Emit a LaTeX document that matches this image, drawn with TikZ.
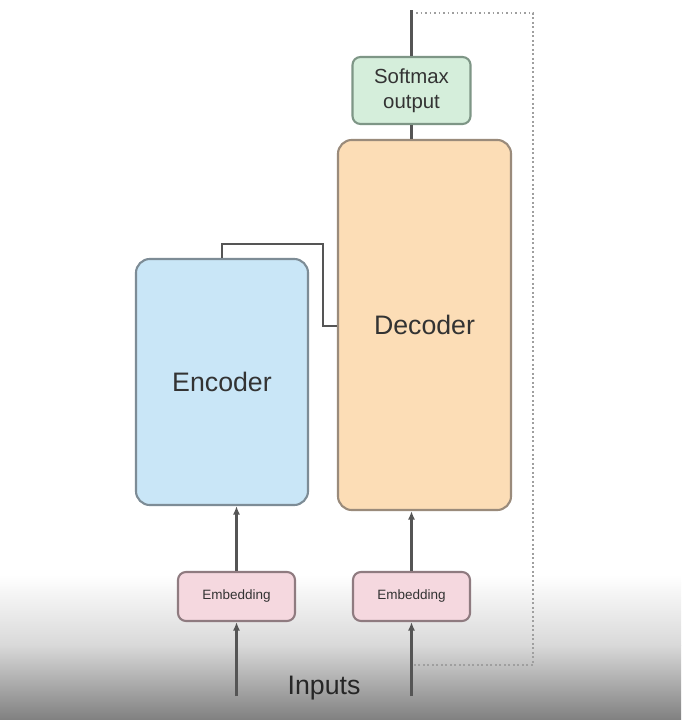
\documentclass[tikz,border=0pt]{standalone}
\usepackage{fontspec}
\setmainfont{Liberation Sans}
\usetikzlibrary{arrows.meta}
\definecolor{encfill}{HTML}{C9E6F7}
\definecolor{encdraw}{HTML}{7D8C96}
\definecolor{decfill}{HTML}{FCDDB6}
\definecolor{decdraw}{HTML}{9A8B7B}
\definecolor{smfill}{HTML}{D5EEDB}
\definecolor{smdraw}{HTML}{7E9686}
\definecolor{embfill}{HTML}{F5D8DF}
\definecolor{embdraw}{HTML}{8F7B80}
\definecolor{linec}{HTML}{555555}
\definecolor{txt}{HTML}{333333}
\definecolor{bgmid}{HTML}{D9D9D9}
\definecolor{bggray}{HTML}{808080}
\begin{document}
\begin{tikzpicture}[x=0.025cm,y=-0.025cm,
  box/.style={draw, line width=1.5pt, rounded corners=0.35cm, inner sep=0pt, text=txt},
  bigbox/.style={box, font=\fontsize{19}{22}\selectfont},
  smallbox/.style={box, rounded corners=0.2cm, font=\fontsize{14.5}{17.5}\selectfont, align=center},
  embbox/.style={box, rounded corners=0.2cm, fill=embfill, draw=embdraw, minimum width=2.925cm, minimum height=1.225cm, font=\fontsize{9.6}{11}\selectfont},
  conn/.style={draw=linec, line width=1.5pt},
  arr/.style={conn, -{Latex[length=6pt,width=5pt]}},
  dots/.style={draw=gray!75, line width=1.3pt, dash pattern=on 1.2pt off 2pt}
]
\useasboundingbox (0,0) rectangle (681,720);
\fill[white] (0,0) rectangle (681,720);
\shade[top color=white, bottom color=bgmid] (0,575) rectangle (681,645);
\shade[top color=bgmid, bottom color=bggray] (0,645) rectangle (681,720);

\node[bigbox, fill=encfill, draw=encdraw, minimum width=4.3cm, minimum height=6.15cm] (enc) at (222,382) {Encoder};
\node[bigbox, fill=decfill, draw=decdraw, minimum width=4.325cm, minimum height=9.25cm] (dec) at (424.5,325) {Decoder};
\node[smallbox, fill=smfill, draw=smdraw, minimum width=2.95cm, minimum height=1.675cm] (sm) at (411.5,90.5) {Softmax\\output};
\node[embbox] (embL) at (236.5,596.5) {Embedding};
\node[embbox] (embR) at (411.5,596.5) {Embedding};
\node[font=\fontsize{19}{22}\selectfont, text=black!85] (inp) at (324,688) {Inputs};

\coordinate (inL) at (236.5,696);
\coordinate (inR) at (411.5,696);
\coordinate (top) at (411.5,10);
\coordinate (c1) at (222,244);
\coordinate (c2) at (323,244);
\coordinate (c3) at (323,326);
\coordinate (d1) at (416,13);
\coordinate (d2) at (533,13);
\coordinate (d3) at (533,665);
\coordinate (d4) at (413,665);

\draw[arr] (inL) -- (embL.south);
\draw[arr] (inR) -- (embR.south);
\draw[arr] (embL.north) -- (embL.north |- enc.south);
\draw[arr] (embR.north) -- (embR.north |- dec.south);
\draw[conn] (sm.south) -- (sm.south |- dec.north);
\draw[conn] (sm.north) -- (top);
\draw[conn] (enc.north) -- (c1) -- (c2) -- (c3) -- (c3 -| dec.west);
\draw[dots] (d1) -- (d2) -- (d3) -- (d4);
\end{tikzpicture}
\end{document}
